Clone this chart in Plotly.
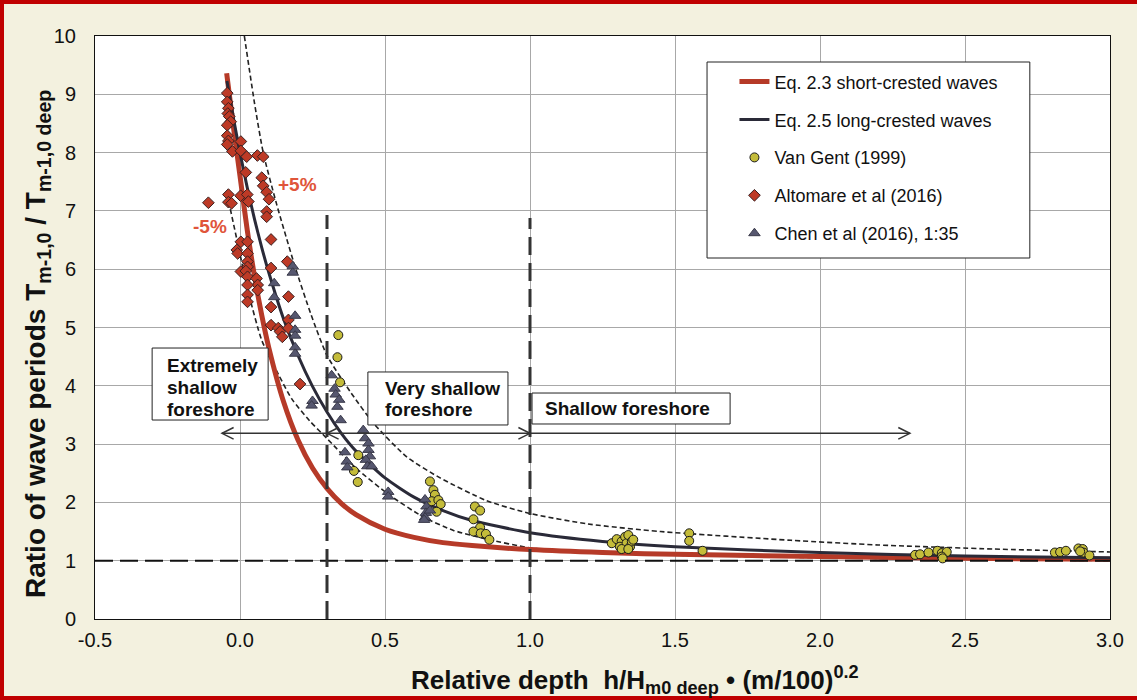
import plotly.graph_objects as go

# ---------------- data ----------------
# Eq. 2.3 short-crested waves (red curve)
red_x = [-0.046, -0.023, 0.0, 0.025, 0.05, 0.075, 0.1, 0.15, 0.2, 0.25, 0.3, 0.35, 0.4, 0.5, 0.6, 0.7, 0.8, 1.0, 1.25, 1.5, 2.0, 2.5, 3.0]
red_y = [9.36, 8.45, 7.60, 6.67, 5.88, 5.21, 4.64, 3.73, 3.07, 2.59, 2.24, 1.98, 1.79, 1.54, 1.40, 1.31, 1.26, 1.19, 1.14, 1.11, 1.07, 1.04, 1.025]

# Eq. 2.5 long-crested waves (dark curve)
black_x = [-0.045, -0.02, 0.0, 0.025, 0.05, 0.075, 0.1, 0.15, 0.2, 0.25, 0.3, 0.35, 0.4, 0.5, 0.6, 0.7, 0.8, 1.0, 1.25, 1.5, 2.0, 2.5, 3.0]
black_y = [9.23, 8.52, 8.0, 7.40, 6.86, 6.37, 5.93, 5.15, 4.52, 3.99, 3.55, 3.18, 2.88, 2.42, 2.09, 1.86, 1.69, 1.48, 1.33, 1.24, 1.14, 1.08, 1.05]

# +5% dashed band
upper_x = [0.015, 0.05, 0.08, 0.126, 0.19, 0.245, 0.3, 0.38, 0.46, 0.575, 0.69, 0.85, 1.0, 1.2, 1.45, 1.9, 2.2, 2.6, 3.0]
upper_y = [10.0, 8.85, 8.0, 7.12, 6.04, 5.22, 4.52, 3.90, 3.36, 2.78, 2.42, 2.03, 1.81, 1.63, 1.50, 1.35, 1.27, 1.20, 1.15]

# -5% dashed band
lower_x = [-0.045, -0.006, 0.029, 0.075, 0.132, 0.178, 0.24, 0.299, 0.402, 0.517, 0.632, 0.736, 0.851, 1.0, 1.2, 1.45, 1.9, 2.2, 2.6, 3.0]
lower_y = [7.3, 6.4, 5.6, 4.78, 4.2, 3.78, 3.4, 3.1, 2.58, 2.12, 1.75, 1.52, 1.37, 1.22, 1.14, 1.10, 1.06, 1.04, 1.02, 1.0]

# Van Gent (1999)
vangent_x = [0.339, 0.336, 0.345, 0.408, 0.393, 0.406,
             0.655, 0.667, 0.672, 0.661, 0.684, 0.692, 0.678,
             0.81, 0.828, 0.805, 0.828, 0.805, 0.83, 0.848, 0.86,
             1.282, 1.299, 1.316, 1.31, 1.328, 1.333, 1.339, 1.345, 1.351, 1.356, 1.316, 1.339,
             1.549, 1.549, 1.595,
             2.328, 2.345, 2.374, 2.405, 2.42, 2.437, 2.42, 2.423,
             2.81, 2.828, 2.848, 2.891, 2.906, 2.908, 2.929, 2.897]
vangent_y = [4.87, 4.49, 4.06, 2.81, 2.54, 2.35,
             2.36, 2.21, 2.13, 2.02, 2.04, 1.97, 1.84,
             1.93, 1.86, 1.71, 1.57, 1.50, 1.47, 1.46, 1.36,
             1.30, 1.37, 1.33, 1.24, 1.41, 1.30, 1.44, 1.24, 1.33, 1.36, 1.20, 1.20,
             1.47, 1.34, 1.17,
             1.10, 1.11, 1.14, 1.17, 1.13, 1.15, 1.07, 1.04,
             1.14, 1.15, 1.17, 1.21, 1.20, 1.14, 1.09, 1.16]

# Altomare et al (2016)
altomare_x = [-0.044, -0.044, -0.040, -0.042, -0.037, -0.032, -0.044, -0.044, -0.040, -0.044,
              -0.026, 0.003, 0.003, 0.023, 0.060, 0.080, 0.020, 0.075, 0.080, 0.092,
              0.100, -0.040, 0.002, 0.025, 0.029, -0.040, -0.029, -0.109, 0.092, 0.092,
              0.003, 0.026, -0.011, -0.008, 0.026, 0.107, 0.026, 0.026, 0.003, 0.020,
              0.026, 0.057, 0.061, 0.061, 0.026, 0.026, 0.026, 0.107, 0.163, 0.167,
              0.107, 0.107, 0.132, 0.138, 0.146, 0.167, 0.167, 0.207]
altomare_y = [9.02, 8.87, 8.76, 8.67, 8.62, 8.53, 8.47, 8.29, 8.20, 8.14,
              8.02, 8.19, 8.03, 7.93, 7.95, 7.93, 7.66, 7.57, 7.43, 7.32,
              7.20, 7.28, 7.26, 7.28, 7.16, 7.15, 7.13, 7.14, 6.99, 6.90,
              6.47, 6.47, 6.33, 6.27, 6.27, 6.51, 6.13, 6.04, 5.96, 5.97,
              5.87, 5.84, 5.73, 5.64, 5.73, 5.56, 5.44, 6.02, 6.13, 5.53,
              5.35, 5.04, 4.99, 4.93, 4.84, 5.13, 4.99, 4.03]

# Chen et al (2016), 1:35
chen_x = [0.182, 0.182, 0.118, 0.118, 0.19, 0.19, 0.19, 0.19, 0.19,
          0.25, 0.247,
          0.316, 0.326, 0.33, 0.342, 0.336, 0.347,
          0.362, 0.368, 0.37,
          0.425, 0.431, 0.443, 0.443, 0.448, 0.434, 0.439, 0.454,
          0.511, 0.511,
          0.638, 0.643, 0.641, 0.638, 0.655, 0.635]
chen_y = [6.05, 5.94, 5.76, 5.52, 5.20, 4.96, 4.86, 4.66, 4.55,
          3.74, 3.66,
          4.18, 3.95, 3.85, 3.76, 3.64, 3.41,
          2.86, 2.70, 2.60,
          3.24, 3.10, 3.01, 2.90, 2.79, 2.73, 2.62, 2.62,
          2.18, 2.10,
          2.05, 1.93, 1.82, 1.74, 1.86, 1.70]

x_ticks = [-0.5, 0.0, 0.5, 1.0, 1.5, 2.0, 2.5, 3.0]
y_ticks = [0, 1, 2, 3, 4, 5, 6, 7, 8, 9, 10]

# ---------------- styling ----------------
FONT = "Arial, Liberation Sans, sans-serif"
BG = "#f3f1df"
DARK = "#2a2a38"
INK = "#111111"

fig = go.Figure()

band_line = dict(color="#222222", width=1.6, dash="5px,3px", shape="spline", smoothing=0.6)
fig.add_trace(go.Scatter(x=upper_x, y=upper_y, mode="lines", showlegend=False, hoverinfo="skip", line=band_line))
fig.add_trace(go.Scatter(x=lower_x, y=lower_y, mode="lines", showlegend=False, hoverinfo="skip", line=band_line))

fig.add_trace(go.Scatter(x=red_x, y=red_y, mode="lines", name="Eq. 2.3 short-crested waves", legendgroup="a",
                         line=dict(color="#b63a28", width=5, shape="spline", smoothing=0.8)))
fig.add_trace(go.Scatter(x=black_x, y=black_y, mode="lines", name="Eq. 2.5 long-crested waves", legendgroup="b",
                         line=dict(color=DARK, width=3, shape="spline", smoothing=0.6)))
fig.add_trace(go.Scatter(x=vangent_x, y=vangent_y, mode="markers", name="Van Gent (1999)", legendgroup="c",
                         marker=dict(symbol="circle", size=9, color="#c4bc3a", line=dict(color="#1a1a1a", width=1))))
fig.add_trace(go.Scatter(x=altomare_x, y=altomare_y, mode="markers", name="Altomare et al (2016)", legendgroup="d",
                         marker=dict(symbol="diamond", size=9, color="#bd3a26", line=dict(color="#3a2020", width=1))))
fig.add_trace(go.Scatter(x=chen_x, y=chen_y, mode="markers", name="Chen et al (2016), 1:35", legendgroup="e",
                         marker=dict(symbol="triangle-up", size=10, color="#56576f", line=dict(color="#3a3a4a", width=1))))

shapes = []
# horizontal reference line y = 1
shapes.append(dict(type="line", xref="x", yref="y", x0=-0.5, x1=3.0, y0=1, y1=1,
                   line=dict(color=INK, width=2, dash="18px,7px"), layer="above"))
# vertical boundaries
shapes.append(dict(type="line", xref="x", yref="y", x0=0.3, x1=0.3, y0=0, y1=6.93,
                   line=dict(color="#333333", width=3, dash="18px,8px"), layer="above"))
shapes.append(dict(type="line", xref="x", yref="y", x0=1.0, x1=1.0, y0=0, y1=6.88,
                   line=dict(color="#333333", width=3, dash="18px,8px"), layer="above"))
# range arrow line
ay = 3.185
shapes.append(dict(type="line", xref="x", yref="y", x0=-0.062, x1=2.31, y0=ay, y1=ay,
                   line=dict(color="#333333", width=1.5), layer="above"))
# chevrons
dx, dy = 0.04, 0.1
for xc, d in [(-0.062, 1), (0.3, 1), (1.0, -1), (2.31, -1)]:
    shapes.append(dict(type="path", xref="x", yref="y",
                       path=f"M {xc + d*dx},{ay + dy} L {xc},{ay} L {xc + d*dx},{ay - dy}",
                       line=dict(color="#333333", width=1.5), layer="above"))
# text boxes (zone labels)
for bx0, bx1, by0, by1 in [(-0.303, 0.097, 3.413, 4.648), (0.441, 0.924, 3.328, 4.237), (1.007, 1.690, 3.345, 3.876)]:
    shapes.append(dict(type="rect", xref="x", yref="y", x0=bx0, x1=bx1, y0=by0, y1=by1,
                       fillcolor="white", line=dict(color="#222222", width=1), layer="above"))
# legend box
shapes.append(dict(type="rect", xref="paper", yref="paper", x0=0.603, x1=0.921, y0=0.6192, y1=0.9554,
                   fillcolor="white", line=dict(color="#222222", width=1), layer="above"))
# outer frame
shapes.append(dict(type="rect", xref="paper", yref="paper",
                   x0=(2 - 95) / 1015, x1=(1141 - 95) / 1015, y0=(619 - 698) / 583, y1=(619 - 2) / 583,
                   line=dict(color="#c00000", width=4), layer="above"))

annotations = []
box_font = dict(family=FONT, size=19, color=INK)
for txt, tx, ty in [("Extremely", -0.259, 4.34), ("shallow", -0.259, 3.975), ("foreshore", -0.259, 3.60),
                    ("Very shallow", 0.493, 3.96), ("foreshore", 0.493, 3.585),
                    ("Shallow foreshore", 1.045, 3.605)]:
    annotations.append(dict(x=tx, y=ty, xref="x", yref="y", text=f"<b>{txt}</b>", showarrow=False,
                            xanchor="left", yanchor="middle", font=box_font))
annotations.append(dict(x=0.197, y=7.46, xref="x", yref="y", text="<b>+5%</b>", showarrow=False,
                        font=dict(family=FONT, size=19, color="#e0553a")))
annotations.append(dict(x=-0.103, y=6.74, xref="x", yref="y", text="<b>-5%</b>", showarrow=False,
                        font=dict(family=FONT, size=19, color="#e0553a")))
# axis titles
annotations.append(dict(x=(635 - 95) / 1015, y=(619 - 680) / 583, xref="paper", yref="paper",
                        text="<b>Relative depth  h/H<sub>m0 deep</sub> • (m/100)<sup>0.2</sup></b>",
                        showarrow=False, xanchor="center", yanchor="middle",
                        font=dict(family=FONT, size=26, color=INK)))
annotations.append(dict(x=(37 - 95) / 1015, y=(619 - 344) / 583, xref="paper", yref="paper",
                        text="<b>Ratio of wave periods T<sub>m-1,0</sub> / T<sub>m-1,0 deep</sub></b>",
                        showarrow=False, xanchor="center", yanchor="middle", textangle=-90,
                        font=dict(family=FONT, size=28, color=INK)))

fig.update_layout(
    width=1137, height=700,
    margin=dict(l=95, r=27, t=36, b=81),
    paper_bgcolor=BG, plot_bgcolor="white",
    font=dict(family=FONT, size=18, color=INK),
    shapes=shapes, annotations=annotations,
    legend=dict(x=0.630, y=0.953, xanchor="left", yanchor="top", bgcolor="rgba(0,0,0,0)",
                borderwidth=0, font=dict(family=FONT, size=18, color=INK),
                tracegroupgap=11.5, itemwidth=30),
)
fig.update_xaxes(range=[-0.5, 3.0], tickvals=x_ticks, ticktext=[f"{v:.1f}" for v in x_ticks],
                 showgrid=True, gridcolor="#a8a8a8", gridwidth=1, zeroline=False,
                 showline=True, linecolor=INK, linewidth=1, mirror=True,
                 ticks="", tickfont=dict(size=20), ticklabelstandoff=3)
fig.update_yaxes(range=[0, 10], tickvals=y_ticks,
                 showgrid=True, gridcolor="#a8a8a8", gridwidth=1, zeroline=False,
                 showline=True, linecolor=INK, linewidth=1, mirror=True,
                 ticks="", tickfont=dict(size=20), ticklabelstandoff=14)

fig.write_html("out.html")
